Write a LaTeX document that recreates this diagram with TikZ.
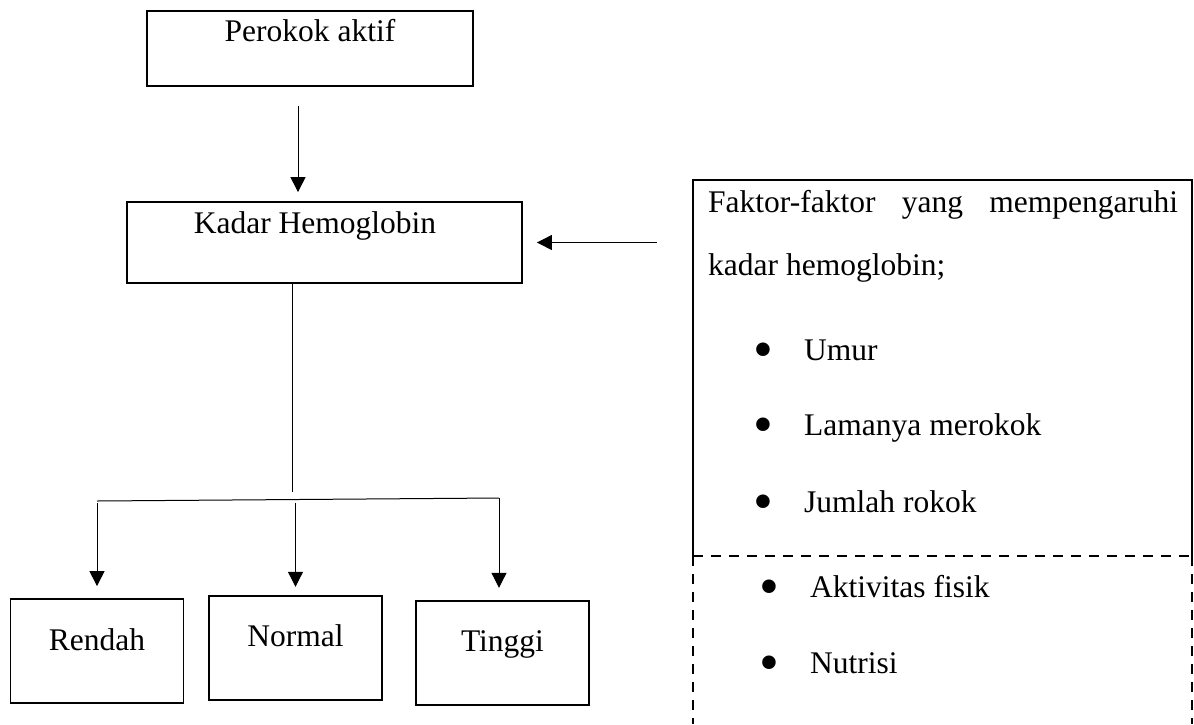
\documentclass[tikz,border=0pt]{standalone}
\usepackage{fontspec}
\setmainfont{Liberation Serif}
\usetikzlibrary{arrows.meta}
\newcommand{\bul}{\makebox[51pt][l]{\raisebox{-8pt}{\scalebox{1.8}{\textbullet}}}}

\begin{document}
\begin{tikzpicture}[x=1pt,y=-1pt,
        font=\fontsize{31.5}{38}\selectfont,
        box/.style={draw,line width=1.8pt,inner sep=0pt},
        lowbox/.style={box,minimum width=173pt,text height=51pt,text depth=53pt},
        arr/.style={-{Triangle[width=15pt,length=15pt]},line width=1pt},
        item/.style={anchor=base west,inner sep=0pt},
        dashedline/.style={line width=2.2pt,dash pattern=on 10pt off 8pt}]
        \useasboundingbox (0,0) rectangle (1194,724);

        %%% COORDINATES %%%
        \coordinate (floor) at (0,724);
        \coordinate (split) at (292,492);
        \coordinate (bl) at (97,501);
        \coordinate (br) at (499,498);

        %%% BOXES %%%
        \node[box,minimum width=326pt,text height=30pt,text depth=45pt] (perokok) at (310,48.5) {Perokok aktif};
        \node[box,minimum width=395pt,text height=31pt,text depth=50pt] (kadar) at (324.5,242.5) {Kadar Hemoglobin\hspace*{19pt}};
        \node[lowbox] (rendah) at (97,651) {Rendah};
        \node[lowbox] (normal) at (295.5,647.7) {Normal};
        \node[lowbox] (tinggi) at (502.5,652.7) {Tinggi};

        %%% FACTORS %%%
        \node[minimum width=499pt,minimum height=376pt,inner sep=0pt] (faktor) at (942.5,368) {};
        \draw[line width=1.8pt] (faktor.south west) -- (faktor.north west) -- (faktor.north east) -- (faktor.south east);
        \draw[dashedline] (faktor.south west) -- (faktor.south east);
        \draw[dashedline] (faktor.south west) -- (faktor.south west |- floor);
        \draw[dashedline] (faktor.south east) -- (faktor.south east |- floor);
        \node[anchor=base west,inner sep=0pt,text width=470pt,align=justify,font=\fontsize{31.5}{63}\selectfont] (faktortext) at (708,212)
            {\tolerance=10000 \hyphenpenalty=10000 Faktor-faktor yang mempengaruhi kadar hemoglobin;};
        \node[item] (umur) at (753,360) {\bul Umur};
        \node[item] (lama) at (753,435) {\bul Lamanya merokok};
        \node[item] (jumlah) at (753,512) {\bul Jumlah rokok};
        \node[item] (aktivitas) at (759,597) {\bul Aktivitas fisik};
        \node[item] (nutrisi) at (759,673) {\bul Nutrisi};

        %%% ARROWS %%%
        \draw[arr,shorten <=19pt,shorten >=9pt] ([xshift=-12pt]perokok.south) -- ([xshift=-12pt]perokok.south |- kadar.north);
        \draw[arr,shorten <=36pt,shorten >=14pt] (faktor.west |- kadar.east) -- (kadar.east);
        \draw[line width=1pt] (split |- kadar.south) -- (split);
        \draw[line width=1pt] (bl) -- (br);
        \draw[arr,shorten <=2pt,shorten >=12pt] (bl) -- (bl |- rendah.north);
        \draw[arr,shorten <=2pt,shorten >=8pt] (normal.north |- bl) -- (normal.north);
        \draw[arr,shorten <=0pt,shorten >=12pt] (br) -- (br |- tinggi.north);
    \end{tikzpicture}
\end{document}
